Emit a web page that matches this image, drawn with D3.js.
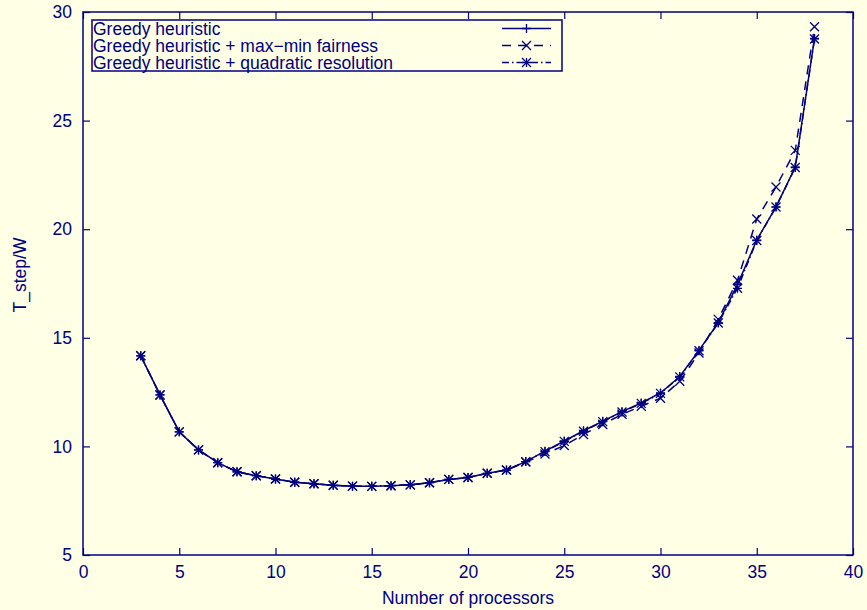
<!DOCTYPE html>
<html>
<head>
<meta charset="utf-8">
<script src="https://cdn.jsdelivr.net/npm/d3@7/dist/d3.min.js"></script>
<style>
  html, body { margin: 0; padding: 0; background: #ffffe5; }
  svg { display: block; }
  text { font-family: "Liberation Sans", Arial, Helvetica, sans-serif; fill: #000080; }
</style>
</head>
<body>
<svg id="chart" width="867" height="610"></svg>
<script>
// Processor counts
const processors = d3.range(3, 39);

// T_step/W for each heuristic variant
const greedy = [14.17, 12.37, 10.67, 9.84, 9.25, 8.83, 8.65, 8.50, 8.35, 8.28, 8.21, 8.17,
  8.16, 8.19, 8.23, 8.33, 8.48, 8.57, 8.76, 8.91, 9.30, 9.78, 10.25, 10.72,
  11.16, 11.60, 12.00, 12.46, 13.22, 14.42, 15.70, 17.45, 19.50, 21.03, 22.86, 28.78];
const fairness = [14.17, 12.37, 10.67, 9.84, 9.25, 8.83, 8.65, 8.50, 8.35, 8.28, 8.21, 8.17,
  8.16, 8.19, 8.23, 8.33, 8.48, 8.57, 8.76, 8.91, 9.28, 9.65, 10.04, 10.55,
  11.01, 11.48, 11.85, 12.22, 13.00, 14.30, 15.85, 17.65, 20.47, 21.94, 23.63, 29.32];
const quadratic = [14.17, 12.37, 10.67, 9.84, 9.25, 8.83, 8.65, 8.50, 8.35, 8.28, 8.21, 8.17,
  8.16, 8.19, 8.23, 8.33, 8.48, 8.57, 8.76, 8.91, 9.30, 9.76, 10.23, 10.70,
  11.14, 11.58, 11.98, 12.44, 13.20, 14.40, 15.68, 17.28, 19.48, 21.02, 22.84, 28.76];

const seriesNames = ["Greedy heuristic", "Greedy heuristic + max\u2212min fairness", "Greedy heuristic + quadratic resolution"];
const xTicks = [0, 5, 10, 15, 20, 25, 30, 35, 40];
const yTicks = [5, 10, 15, 20, 25, 30];

const ink = "#000080";
const fontSize = 17.5;
const svg = d3.select("#chart");
const plotLeft = 83, plotRight = 853, plotTop = 12, plotBottom = 555;

const x = d3.scaleLinear().domain([0, 40]).range([plotLeft, plotRight]);
const y = d3.scaleLinear().domain([5, 30]).range([plotBottom, plotTop]);

// Axes: ticks point inward on all four sides
function styleAxis(g) {
  g.select(".domain").remove();
  g.selectAll("line").attr("stroke", ink).attr("stroke-width", 1.2);
  g.selectAll("text").attr("font-size", fontSize).attr("fill", ink)
    .attr("font-family", "Liberation Sans, Arial, sans-serif");
}
svg.append("g").attr("transform", `translate(0,${plotBottom})`)
  .call(d3.axisBottom(x).tickValues(xTicks).tickSizeInner(-7).tickSizeOuter(0).tickPadding(11))
  .call(styleAxis);
svg.append("g").attr("transform", `translate(0,${plotTop})`)
  .call(d3.axisTop(x).tickValues(xTicks).tickSizeInner(-7).tickSizeOuter(0).tickFormat(""))
  .call(styleAxis);
svg.append("g").attr("transform", `translate(${plotLeft},0)`)
  .call(d3.axisLeft(y).tickValues(yTicks).tickSizeInner(-7).tickSizeOuter(0).tickPadding(11))
  .call(styleAxis);
svg.append("g").attr("transform", `translate(${plotRight},0)`)
  .call(d3.axisRight(y).tickValues(yTicks).tickSizeInner(-7).tickSizeOuter(0).tickFormat(""))
  .call(styleAxis);

// Plot frame
svg.append("rect").attr("x", plotLeft).attr("y", plotTop)
  .attr("width", plotRight - plotLeft).attr("height", plotBottom - plotTop)
  .attr("fill", "none").attr("stroke", ink).attr("stroke-width", 1.5);

// Axis titles
svg.append("text").attr("x", (plotLeft + plotRight) / 2).attr("y", 604)
  .attr("text-anchor", "middle").attr("font-size", fontSize).text("Number of processors");
svg.append("text").attr("transform", "translate(26,275) rotate(-90)")
  .attr("text-anchor", "middle").attr("font-size", fontSize).text("T_step/W");

// Point markers
const s = 4.5;
function plus(g, cx, cy) {
  g.append("path").attr("d", `M${cx - s},${cy}H${cx + s}M${cx},${cy - s}V${cy + s}`)
    .attr("stroke", ink).attr("stroke-width", 1.3).attr("fill", "none");
}
function cross(g, cx, cy) {
  g.append("path").attr("d", `M${cx - s},${cy - s}L${cx + s},${cy + s}M${cx - s},${cy + s}L${cx + s},${cy - s}`)
    .attr("stroke", ink).attr("stroke-width", 1.3).attr("fill", "none");
}
function star(g, cx, cy) { plus(g, cx, cy); cross(g, cx, cy); }

const series = [
  { name: seriesNames[0], values: greedy, dash: null, marker: plus },
  { name: seriesNames[1], values: fairness, dash: "9,7", marker: cross },
  { name: seriesNames[2], values: quadratic, dash: "7,3,1.5,3", marker: star }
];

const line = d3.line().x(d => x(d[0])).y(d => y(d[1]));

series.forEach(sr => {
  const pts = processors.map((p, i) => [p, sr.values[i]]);
  const g = svg.append("g");
  g.append("path").datum(pts).attr("d", line)
    .attr("fill", "none").attr("stroke", ink).attr("stroke-width", 1.5)
    .attr("stroke-dasharray", sr.dash);
  pts.forEach(p => sr.marker(g, x(p[0]), y(p[1])));
});

// Legend
const lg = svg.append("g");
lg.append("rect").attr("x", 92).attr("y", 20).attr("width", 470).attr("height", 51)
  .attr("fill", "#ffffe5").attr("stroke", ink).attr("stroke-width", 1.5);
series.forEach((sr, i) => {
  const cy = 28.5 + i * 17;
  lg.append("text").attr("x", 93).attr("y", cy).attr("dy", "0.36em")
    .attr("font-size", fontSize).text(sr.name);
  lg.append("line").attr("x1", 502).attr("x2", 551).attr("y1", cy).attr("y2", cy)
    .attr("stroke", ink).attr("stroke-width", 1.5).attr("stroke-dasharray", sr.dash);
  sr.marker(lg, 526.5, cy);
});
</script>
</body>
</html>
